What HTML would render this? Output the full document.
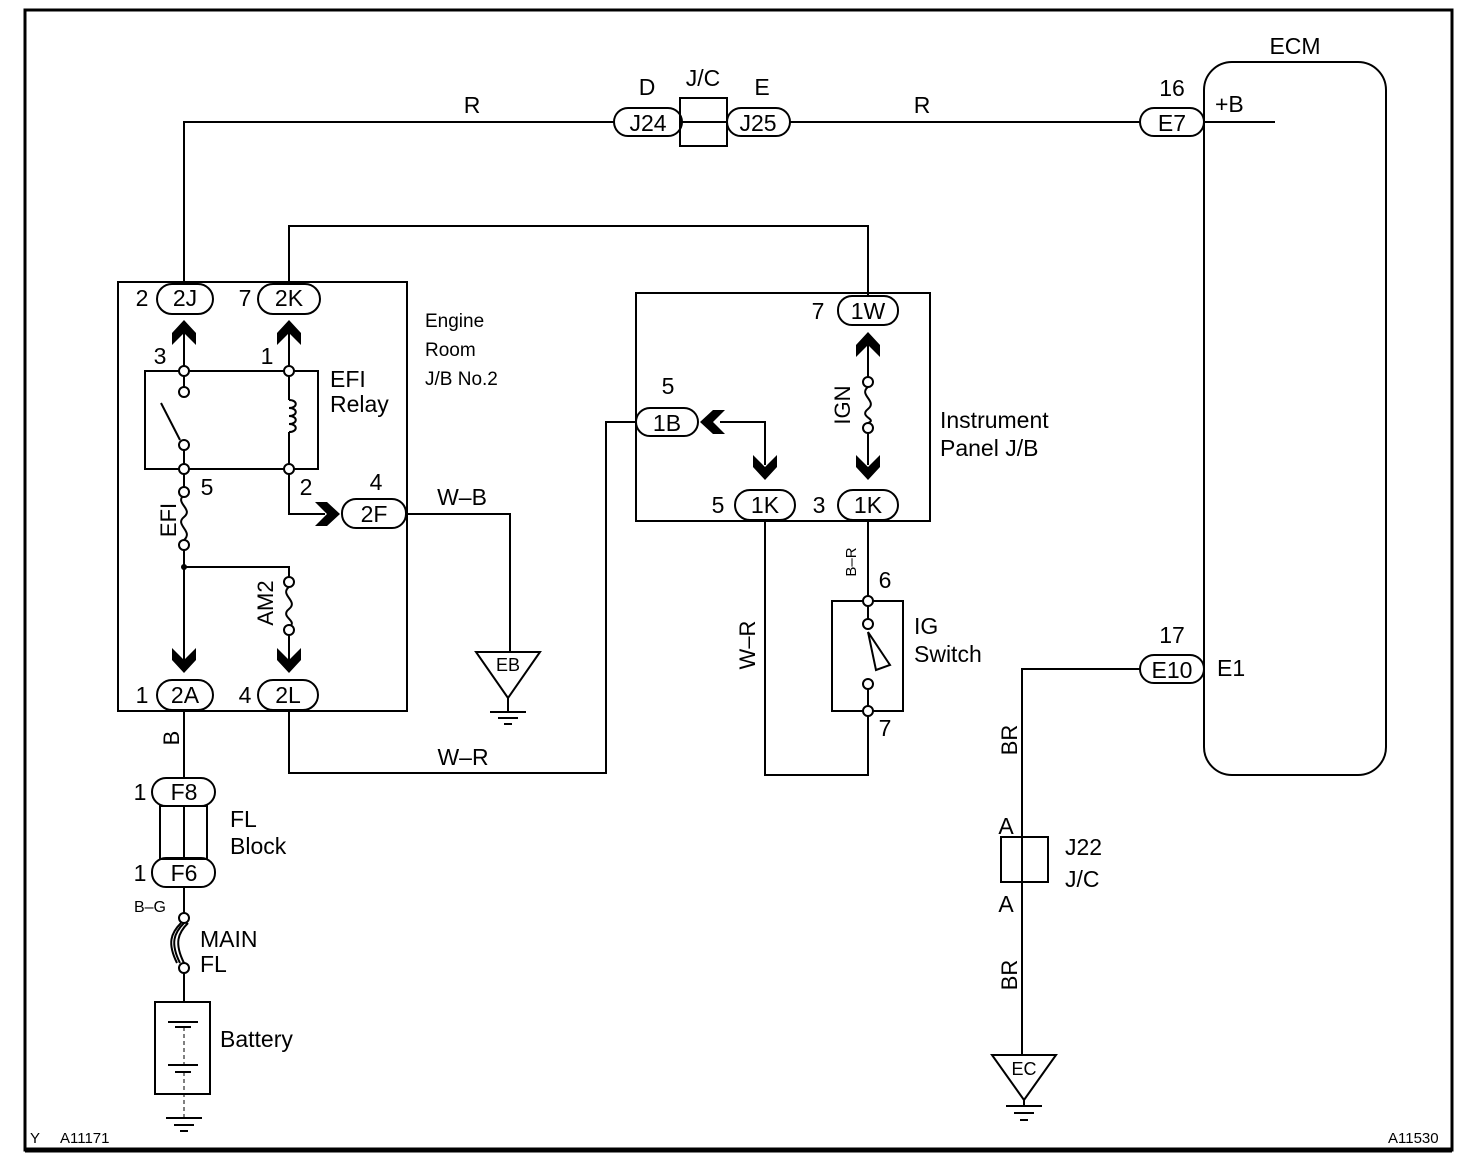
<!DOCTYPE html>
<html><head><meta charset="utf-8"><style>
html,body{margin:0;padding:0;background:#fff;}
svg{display:block;font-family:"Liberation Sans",Arial,sans-serif;}
</style></head><body>
<svg width="1472" height="1164" viewBox="0 0 1472 1164" xmlns="http://www.w3.org/2000/svg">
<defs>
<g id="cu"><polygon points="0,0 12,13 12,25 0,13 -12,25 -12,13" fill="#000"/></g>
<g id="cd"><polygon points="0,25 12,12 12,0 0,12 -12,0 -12,12" fill="#000"/></g>
</defs>
<g fill="none" stroke="#000" stroke-width="2">
<rect x="25" y="10" width="1427" height="1140" stroke-width="3"/>
<line x1="25" y1="1150" x2="1452" y2="1150" stroke-width="5"/>
<polyline points="184,284 184,122 614,122"/>
<line x1="790" y1="122" x2="1140" y2="122"/>
<line x1="1204" y1="122" x2="1275" y2="122"/>
<rect x="680" y="98" width="47" height="48"/>
<line x1="680" y1="122" x2="727" y2="122"/>
<rect x="614" y="108" width="68" height="28" rx="14"/>
<rect x="727" y="108" width="63" height="28" rx="14"/>
<rect x="1204" y="62" width="182" height="713" rx="28"/>
<rect x="1140" y="108" width="64" height="28" rx="14"/>
<rect x="1140" y="655" width="64" height="28" rx="14"/>
<polyline points="289,284 289,226 868,226 868,296"/>
<rect x="118" y="282" width="289" height="429"/>
<rect x="157" y="284" width="56" height="30" rx="15"/>
<rect x="258" y="284" width="62" height="30" rx="15"/>
<line x1="184" y1="330" x2="184" y2="371"/>
<line x1="289" y1="330" x2="289" y2="371"/>
<rect x="145" y="371" width="173" height="98"/>
<line x1="184" y1="371" x2="184" y2="392"/>
<line x1="161" y1="403" x2="180" y2="440"/>
<line x1="184" y1="445" x2="184" y2="469"/>
<line x1="289" y1="371" x2="289" y2="400"/>
<path d="M289,400 c9,0 9,8 0,8 c9,0 9,8 0,8 c9,0 9,8 0,8 c9,0 9,8 0,8"/>
<line x1="289" y1="432" x2="289" y2="469"/>
<line x1="184" y1="469" x2="184" y2="490"/>
<path d="M184,495 c-10,8 10,14 0,22 c-10,8 10,14 0,23"/>
<polyline points="184,550 184,660"/>
<polyline points="184,567 289,567 289,582"/>
<path d="M289,587 c-10,8 10,14 0,22 c-10,8 10,12 0,18"/>
<line x1="289" y1="635" x2="289" y2="660"/>
<polyline points="289,469 289,514 325,514"/>
<rect x="342" y="499" width="64" height="29" rx="14"/>
<rect x="157" y="680" width="56" height="30" rx="15"/>
<rect x="258" y="680" width="60" height="30" rx="15"/>
<polyline points="406,514 510,514 510,652"/>
<polygon points="476,652 540,652 508,698"/>
<line x1="508" y1="698" x2="508" y2="712"/>
<line x1="490" y1="712" x2="526" y2="712"/>
<line x1="498" y1="718" x2="518" y2="718"/>
<line x1="504" y1="724" x2="512" y2="724"/>
<polyline points="289,710 289,773 606,773 606,422 636,422"/>
<line x1="184" y1="710" x2="184" y2="778"/>
<rect x="152" y="778" width="63" height="28" rx="14"/>
<rect x="160" y="806" width="47" height="53"/>
<line x1="184" y1="806" x2="184" y2="859"/>
<rect x="152" y="858" width="63" height="29" rx="14"/>
<line x1="184" y1="887" x2="184" y2="913"/>
<path d="M184,923 c-10,10 -14,20 -4,40 M188,923 c-10,10 -14,20 -4,40 M181,923 c-10,10 -14,20 -4,40" stroke-width="2"/>
<line x1="184" y1="973" x2="184" y2="1002"/>
<rect x="155" y="1002" width="55" height="92"/>
<line x1="168" y1="1022" x2="198" y2="1022"/>
<line x1="175" y1="1027" x2="191" y2="1027"/>
<line x1="168" y1="1065" x2="198" y2="1065"/>
<line x1="175" y1="1072" x2="191" y2="1072"/>
<line x1="184" y1="1027" x2="184" y2="1065" stroke-dasharray="4,3" stroke-width="1"/>
<line x1="184" y1="1072" x2="184" y2="1118" stroke-dasharray="4,3" stroke-width="1"/>
<line x1="166" y1="1118" x2="202" y2="1118"/>
<line x1="174" y1="1125" x2="194" y2="1125"/>
<line x1="180" y1="1131" x2="188" y2="1131"/>
<rect x="636" y="293" width="294" height="228"/>
<rect x="838" y="296" width="60" height="29" rx="14"/>
<line x1="868" y1="340" x2="868" y2="377"/>
<path d="M868,387 c-10,8 10,14 0,22 c-10,8 10,10 0,14"/>
<line x1="868" y1="433" x2="868" y2="465"/>
<rect x="636" y="408" width="62" height="28" rx="14"/>
<polyline points="720,422 765,422 765,465"/>
<rect x="735" y="490" width="60" height="30" rx="15"/>
<rect x="838" y="490" width="60" height="30" rx="15"/>
<line x1="868" y1="520" x2="868" y2="601"/>
<rect x="832" y="601" width="71" height="110"/>
<line x1="868" y1="601" x2="868" y2="624"/>
<polygon points="868,632 876,670 890,665"/>
<line x1="868" y1="684" x2="868" y2="711"/>
<polyline points="765,520 765,775 868,775 868,711"/>
<polyline points="1140,669 1022,669 1022,1055"/>
<rect x="1001" y="837" width="47" height="45" fill="#fff"/>
<line x1="1022" y1="837" x2="1022" y2="882"/>
<polygon points="992,1055 1056,1055 1024,1100"/>
<line x1="1024" y1="1100" x2="1024" y2="1106"/>
<line x1="1006" y1="1106" x2="1042" y2="1106"/>
<line x1="1014" y1="1113" x2="1034" y2="1113"/>
<line x1="1020" y1="1120" x2="1028" y2="1120"/>
</g>
<g fill="#fff" stroke="#000" stroke-width="2">
<circle cx="184" cy="371" r="5"/><circle cx="289" cy="371" r="5"/>
<circle cx="184" cy="392" r="5"/><circle cx="184" cy="445" r="5"/>
<circle cx="184" cy="469" r="5"/><circle cx="289" cy="469" r="5"/>
<circle cx="184" cy="492" r="5"/><circle cx="184" cy="545" r="5"/>
<circle cx="289" cy="582" r="5"/><circle cx="289" cy="630" r="5"/>
<circle cx="184" cy="918" r="5"/><circle cx="184" cy="968" r="5"/>
<circle cx="868" cy="382" r="5"/><circle cx="868" cy="428" r="5"/>
<circle cx="868" cy="601" r="5"/><circle cx="868" cy="624" r="5"/>
<circle cx="868" cy="684" r="5"/><circle cx="868" cy="711" r="5"/>
</g>
<circle cx="184" cy="567" r="3" fill="#000"/>
<use href="#cu" x="184" y="320"/><use href="#cu" x="289" y="320"/>
<use href="#cd" x="184" y="648"/><use href="#cd" x="289" y="648"/>
<use href="#cu" x="868" y="332"/>
<use href="#cd" x="868" y="455"/><use href="#cd" x="765" y="455"/>
<polygon points="340,514 327,502 315,502 327,514 315,526 327,526" fill="#000"/>
<polygon points="700,422 713,410 725,410 713,422 725,434 713,434" fill="#000"/>
<g font-size="23" fill="#000" text-anchor="middle">
<text x="185" y="306">2J</text><text x="289" y="306">2K</text>
<text x="185" y="703">2A</text><text x="288" y="703">2L</text>
<text x="374" y="522">2F</text>
<text x="648" y="131">J24</text><text x="758" y="131">J25</text>
<text x="1172" y="131">E7</text><text x="1172" y="678">E10</text>
<text x="184" y="800">F8</text><text x="184" y="881">F6</text>
<text x="868" y="319">1W</text><text x="667" y="431">1B</text>
<text x="765" y="513">1K</text><text x="868" y="513">1K</text>
<text x="472" y="113">R</text><text x="922" y="113">R</text>
<text x="647" y="95">D</text><text x="703" y="86">J/C</text><text x="762" y="95">E</text>
<text x="1172" y="96">16</text><text x="1172" y="643">17</text>
<text x="1295" y="54">ECM</text>
<text x="142" y="306">2</text><text x="245" y="306">7</text>
<text x="160" y="364">3</text><text x="267" y="364">1</text>
<text x="207" y="495">5</text><text x="306" y="495">2</text><text x="376" y="490">4</text>
<text x="142" y="703">1</text><text x="245" y="703">4</text>
<text x="140" y="800">1</text><text x="140" y="881">1</text>
<text x="818" y="319">7</text><text x="668" y="394">5</text>
<text x="718" y="513">5</text><text x="819" y="513">3</text>
<text x="885" y="588">6</text><text x="885" y="736">7</text>
<text x="462" y="505">W–B</text><text x="463" y="765">W–R</text>
<text x="1006" y="834">A</text><text x="1006" y="912">A</text>
</g>
<g font-size="23" fill="#000">
<text x="1215" y="112">+B</text><text x="1217" y="676">E1</text>
<text x="330" y="387">EFI</text><text x="330" y="412">Relay</text>
<text x="940" y="428">Instrument</text><text x="940" y="456">Panel J/B</text>
<text x="914" y="634">IG</text><text x="914" y="662">Switch</text>
<text x="230" y="827">FL</text><text x="230" y="854">Block</text>
<text x="200" y="947">MAIN</text><text x="200" y="972">FL</text>
<text x="220" y="1047">Battery</text>
<text x="1065" y="855">J22</text><text x="1065" y="887">J/C</text>
</g>
<g font-size="19" fill="#000">
<text x="425" y="327">Engine</text><text x="425" y="356">Room</text><text x="425" y="385">J/B No.2</text>
</g>
<g font-size="18" fill="#000" text-anchor="middle">
<text x="508" y="671">EB</text><text x="1024" y="1075">EC</text>
</g>
<text x="150" y="912" font-size="16" text-anchor="middle">B–G</text>
<g font-size="22" fill="#000" text-anchor="middle">
<text transform="translate(176,520) rotate(-90)">EFI</text>
<text transform="translate(273,603) rotate(-90)">AM2</text>
<text transform="translate(850,405) rotate(-90)">IGN</text>
<text transform="translate(755,645) rotate(-90)">W–R</text>
<text transform="translate(179,738) rotate(-90)">B</text>
<text transform="translate(1017,740) rotate(-90)">BR</text>
<text transform="translate(1017,975) rotate(-90)">BR</text>
</g>
<text transform="translate(856,562) rotate(-90)" font-size="15" text-anchor="middle">B–R</text>
<g font-size="15" fill="#000">
<text x="30" y="1143">Y</text><text x="60" y="1143">A11171</text><text x="1388" y="1143">A11530</text>
</g>
</svg>
</body></html>
